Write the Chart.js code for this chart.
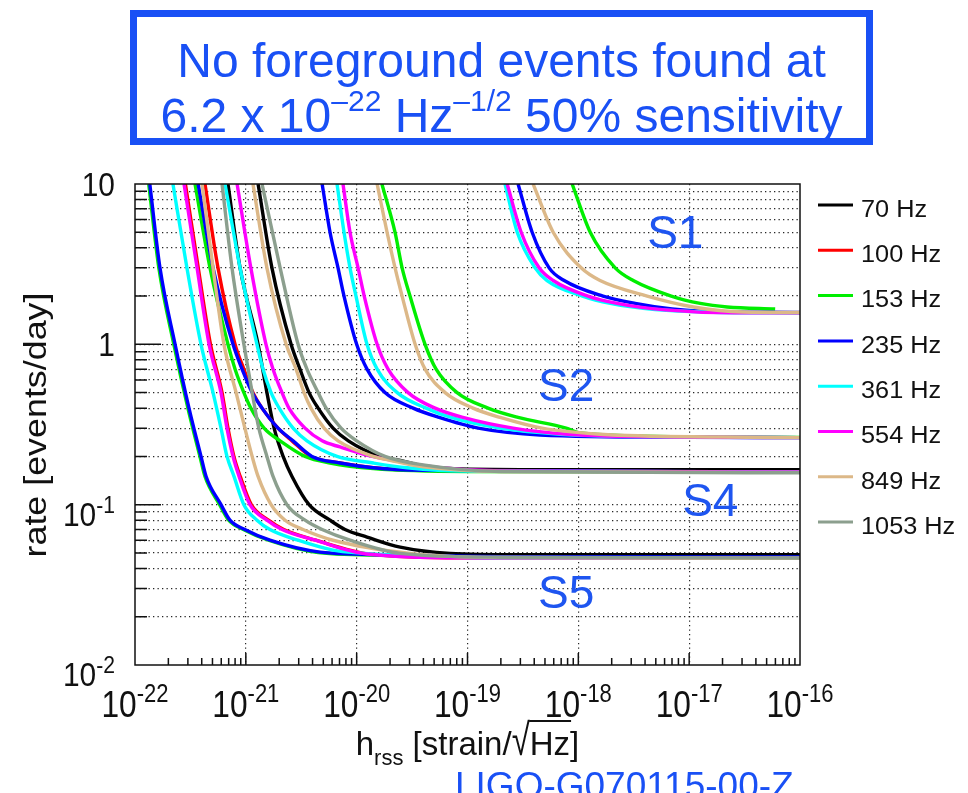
<!DOCTYPE html>
<html><head><meta charset="utf-8">
<script src="https://cdn.jsdelivr.net/npm/chart.js@4.4.1/dist/chart.umd.min.js"></script>
<style>
html,body{margin:0;padding:0;background:#fff;width:968px;height:793px;overflow:hidden;position:relative;}
#c{position:absolute;left:0;top:0;}
.blue{color:#1950F5;font-family:"Liberation Sans",Arial,Helvetica,sans-serif;}
#box{position:absolute;left:130px;top:10px;width:743px;height:135px;box-sizing:border-box;border:7px solid #1950F5;}
.tl{position:absolute;left:130px;width:743px;text-align:center;font-size:48px;line-height:48px;white-space:nowrap;}
.tl sup{font-size:30px;position:relative;top:-21px;vertical-align:baseline;line-height:0;}
#foot{position:absolute;left:455px;top:767px;font-size:37px;line-height:37px;white-space:nowrap;}
</style></head>
<body>
<canvas id="c" width="968" height="793"></canvas>
<div id="box"></div>
<div class="tl blue" style="top:37px">No foreground events found at</div>
<div class="tl blue" style="top:92px">6.2 x 10<sup>–22</sup> Hz<sup>–1/2</sup> 50% sensitivity</div>
<div id="foot" class="blue">LIGO-G070115-00-Z</div>
<script>
const FONT = '"Liberation Sans", Arial, Helvetica, sans-serif';

// ---- legend / categories ----
const freqLabels = ['70 Hz','100 Hz','153 Hz','235 Hz','361 Hz','554 Hz','849 Hz','1053 Hz'];
const freqColors = ['#000000','#ff0000','#00ee00','#0000ff','#00ffff','#ff00ff','#dcb888','#8c9f8e'];

// ---- curves: [hrss, rate (events/day)] ----
// S5
const s5_70   = [[6.9e-22,10],[8.87e-22,3],[1.29e-21,1],[1.55e-21,0.5],[1.80e-21,0.3],[2.17e-21,0.2],[2.61e-21,0.15],[3.72e-21,0.1],[5.75e-21,0.08],[7.85e-21,0.07],[1.24e-20,0.0628],[2.47e-20,0.0543],[6.97e-20,0.0497],[3e-19,0.0488],[1e-16,0.0487]];
const s5_100  = [[2.85e-22,10],[3.72e-22,3],[4.8e-22,1],[6.1e-22,0.5],[6.9e-22,0.3],[7.8e-22,0.2],[8.9e-22,0.15],[1.12e-21,0.1],[1.6e-21,0.08],[2.2e-21,0.07],[4.3e-21,0.06],[1.3e-20,0.0492],[1e-19,0.0466],[1e-16,0.0463]];
const s5_153  = [[1.33e-22,10],[1.64e-22,3],[2.24e-22,1],[3.0e-22,0.4],[3.85e-22,0.2],[4.28e-22,0.15],[5.8e-22,0.1],[7.0e-22,0.08],[9.5e-22,0.07],[1.6e-21,0.06],[4.5e-21,0.0503],[2.4e-20,0.0482],[2e-19,0.047],[1e-16,0.0468]];
const s5_235  = [[1.36e-22,10],[1.68e-22,3],[2.3e-22,1],[3.07e-22,0.4],[3.94e-22,0.2],[4.38e-22,0.15],[5.97e-22,0.1],[7.19e-22,0.08],[9.8e-22,0.07],[1.65e-21,0.06],[4.67e-21,0.0506],[2.46e-20,0.0485],[2e-19,0.0474],[1e-16,0.0472]];
const s5_361  = [[2.2e-22,10],[2.94e-22,3],[3.94e-22,1],[5.06e-22,0.5],[5.97e-22,0.3],[6.76e-22,0.2],[7.82e-22,0.15],[9.6e-22,0.1],[1.26e-21,0.08],[1.65e-21,0.07],[2.96e-21,0.06],[6.12e-21,0.0521],[2.47e-20,0.0485],[2e-19,0.0465],[1e-16,0.0463]];
const s5_554  = [[2.77e-22,10],[3.63e-22,3],[4.66e-22,1],[5.97e-22,0.5],[6.76e-22,0.3],[7.66e-22,0.2],[8.69e-22,0.15],[1.09e-21,0.1],[1.55e-21,0.08],[2.12e-21,0.07],[4.22e-21,0.06],[1.24e-20,0.0492],[1e-19,0.0466],[1e-16,0.0463]];
const s5_849  = [[4.03e-22,10],[5.06e-22,3],[6.35e-22,1],[8.17e-22,0.5],[9.8e-22,0.3],[1.14e-21,0.2],[1.29e-21,0.15],[1.69e-21,0.1],[2.26e-21,0.08],[3.28e-21,0.07],[6.12e-21,0.06],[3.03e-20,0.0497],[2e-19,0.0468],[1e-16,0.0463]];
const s5_1053 = [[6.1e-22,10],[7.5e-22,3],[9.6e-22,1],[1.14e-21,0.5],[1.31e-21,0.3],[1.55e-21,0.2],[1.76e-21,0.15],[2.35e-21,0.1],[3.42e-21,0.08],[4.88e-21,0.07],[8.7e-21,0.06],[2.47e-20,0.0497],[2e-19,0.047],[1e-16,0.0465]];
// S4
const s4_70   = [[1.29e-21,10],[1.72e-21,3],[2.56e-21,1],[3.08e-21,0.7],[3.72e-21,0.5],[4.49e-21,0.4],[6.12e-21,0.3],[8.41e-21,0.25],[1.63e-20,0.2],[2.47e-20,0.189],[4.89e-20,0.17],[3e-19,0.1655],[1e-16,0.1655]];
const s4_100  = [[4.28e-22,10],[5.61e-22,3],[8.0e-22,1],[9.6e-22,0.7],[1.16e-21,0.5],[1.40e-21,0.4],[1.95e-21,0.3],[2.61e-21,0.25],[3.87e-21,0.2],[7.08e-21,0.182],[1.41e-20,0.17],[3.97e-20,0.164],[1e-16,0.16]];
const s4_153  = [[3.48e-22,10],[4.75e-22,3],[6.9e-22,1],[8.0e-22,0.7],[9.6e-22,0.5],[1.11e-21,0.4],[1.46e-21,0.3],[2.04e-21,0.25],[3.42e-21,0.2],[5.75e-21,0.182],[1.41e-20,0.168],[1e-19,0.161],[1e-16,0.16]];
const s4_235  = [[3.71e-22,10],[5.06e-22,3],[7.66e-22,1],[9.25e-22,0.7],[1.14e-21,0.5],[1.40e-21,0.4],[1.95e-21,0.3],[2.67e-21,0.25],[3.95e-21,0.2],[7.08e-21,0.182],[1.41e-20,0.17],[3.97e-20,0.164],[1e-16,0.16]];
const s4_361  = [[6.49e-22,10],[8.87e-22,3],[1.26e-21,1],[1.43e-21,0.7],[1.69e-21,0.5],[2.0e-21,0.4],[2.67e-21,0.3],[3.56e-21,0.25],[6.65e-21,0.2],[1.41e-20,0.182],[2.85e-20,0.17],[1e-19,0.162],[1e-16,0.16]];
const s4_554  = [[8.34e-22,10],[1.11e-21,3],[1.52e-21,1],[1.76e-21,0.7],[2.12e-21,0.5],[2.45e-21,0.4],[3.42e-21,0.3],[4.88e-21,0.25],[7.08e-21,0.229],[1.38e-20,0.2],[2.85e-20,0.182],[5.66e-20,0.17],[2e-19,0.162],[1e-16,0.16]];
const s4_849  = [[1.16e-21,10],[1.55e-21,3],[2.31e-21,1],[2.84e-21,0.7],[3.35e-21,0.5],[3.87e-21,0.4],[5.08e-21,0.3],[6.79e-21,0.25],[1.41e-20,0.2],[2.0e-20,0.189],[3.97e-20,0.172],[2e-19,0.161],[1e-16,0.159]];
const s4_1053 = [[1.40e-21,10],[2.04e-21,3],[2.96e-21,1],[3.56e-21,0.7],[4.49e-21,0.5],[5.30e-21,0.4],[7.23e-21,0.3],[1.0e-20,0.25],[1.80e-20,0.2],[3.97e-20,0.177],[2e-19,0.161],[1e-16,0.158]];
// S2
const s2_153  = [[1.69e-20,10],[2.22e-20,5],[2.57e-20,3],[3.03e-20,2],[4.14e-20,1],[5.21e-20,0.7],[8.05e-20,0.5],[1.53e-19,0.4],[2.86e-19,0.35],[7.76e-19,0.3],[1.04e-18,0.28],[1e-17,0.265],[1e-16,0.263]];
const s2_235  = [[4.88e-21,10],[5.75e-21,5],[6.79e-21,3],[7.69e-21,2],[1.0e-20,1],[1.24e-20,0.7],[1.80e-20,0.5],[3.23e-20,0.4],[5.55e-20,0.35],[1.25e-19,0.3],[4.52e-19,0.272],[1e-17,0.263],[1e-16,0.262]];
const s2_361  = [[6.65e-21,10],[7.69e-21,5],[8.71e-21,3],[9.86e-21,2],[1.24e-20,1],[1.53e-20,0.7],[2.32e-20,0.5],[4.23e-20,0.4],[7.11e-20,0.35],[1.97e-19,0.3],[6.86e-19,0.275],[1e-17,0.264],[1e-16,0.262]];
const s2_554  = [[7.53e-21,10],[8.71e-21,5],[1.03e-20,3],[1.17e-20,2],[1.53e-20,1],[1.92e-20,0.7],[2.91e-20,0.5],[5.1e-20,0.4],[9.1e-20,0.35],[2.58e-19,0.3],[8e-19,0.275],[1e-17,0.264],[1e-16,0.262]];
const s2_849  = [[1.53e-20,10],[1.88e-20,5],[2.22e-20,3],[2.57e-20,2],[3.37e-20,1],[4.14e-20,0.7],[6.28e-20,0.5],[1.12e-19,0.4],[1.97e-19,0.35],[4.71e-19,0.3],[1.57e-18,0.275],[2e-17,0.264],[1e-16,0.262]];
// S1
const s1_153  = [[8.79e-19,10],[1.28e-18,5],[2.15e-18,3],[3.13e-18,2.5],[6.89e-18,2],[1.26e-17,1.8],[2.2e-17,1.71],[5.97e-17,1.66]];
const s1_235  = [[2.86e-19,10],[3.83e-19,5],[5.45e-19,3],[7.45e-19,2.5],[1.67e-18,2],[3.26e-18,1.8],[7e-18,1.66],[1.26e-17,1.61],[1e-16,1.58]];
const s1_361  = [[2.18e-19,10],[2.81e-19,5],[4.07e-19,3],[5.22e-19,2.5],[1.09e-18,2],[1.94e-18,1.8],[4.93e-18,1.65],[5.58e-17,1.57],[1e-16,1.57]];
const s1_554  = [[2.28e-19,10],[3.05e-19,5],[4.43e-19,3],[5.93e-19,2.5],[1.22e-18,2],[2.24e-18,1.8],[6.07e-18,1.64],[2.49e-17,1.57],[1e-16,1.57]];
const s1_849  = [[3.91e-19,10],[5.93e-19,5],[1.06e-18,3],[1.57e-18,2.5],[4.18e-18,2],[1.09e-17,1.71],[3.07e-17,1.59],[1e-16,1.58]];

const runNames = ['S1','S2','S4','S5'];
const runCurves = [
  [null, null, s1_153, s1_235, s1_361, s1_554, s1_849, null],
  [null, null, s2_153, s2_235, s2_361, s2_554, s2_849, null],
  [s4_70, s4_100, s4_153, s4_235, s4_361, s4_554, s4_849, s4_1053],
  [s5_70, s5_100, s5_153, s5_235, s5_361, s5_554, s5_849, s5_1053]
];
// run-name annotation anchors (data coordinates)
const runLabelH = [7.5e-18, 7.76e-19, 1.55e-17, 7.76e-19];
const runLabelR = [4.8, 0.533, 0.102, 0.0273];

// ---- axes ----
const xTickValues = [1e-22,1e-21,1e-20,1e-19,1e-18,1e-17,1e-16];
const xTickLabels = [['10','-22'],['10','-21'],['10','-20'],['10','-19'],['10','-18'],['10','-17'],['10','-16']];
const yTickValues = [0.01, 0.1, 1, 10];
const yTickLabels = [['10','-2'],['10','-1'],['1',''],['10','']];

const xGrid = [1e-21,1e-20,1e-19,1e-18,1e-17];
const yGrid = [];
for (let e = -2; e <= 0; e++) for (let k = 1; k <= 9; k++) { if (e === -2 && k === 1) continue; yGrid.push(+(k * Math.pow(10, e)).toPrecision(6)); }
const xMarks = [];
for (let e = -22; e <= -17; e++) for (let k = 1; k <= 9; k++) { if (e === -22 && k === 1) continue; xMarks.push(+(k * Math.pow(10, e)).toPrecision(6)); }
const isDecade = v => Math.abs(Math.log10(v) - Math.round(Math.log10(v))) < 1e-6;

const datasets = [];
runCurves.forEach(curves => curves.forEach((c, i) => {
  if (!c) return;
  datasets.push({
    label: freqLabels[i],
    data: c.map(p => ({x: p[0], y: p[1]})),
    borderColor: freqColors[i], backgroundColor: freqColors[i],
    borderWidth: 3.4, pointRadius: 0, pointHoverRadius: 0, fill: false,
    cubicInterpolationMode: 'monotone', order: 7 - i
  });
}));

function drawPow(ctx, base, exp, x, yb, align, bs, es, sx, raise) {
  ctx.font = bs + 'px ' + FONT; const wb = ctx.measureText(base).width * sx;
  ctx.font = es + 'px ' + FONT; const we = exp ? ctx.measureText(exp).width * sx : 0;
  const tot = wb + we;
  const x0 = align === 'center' ? x - tot / 2 : (align === 'right' ? x - tot : x);
  ctx.textAlign = 'left'; ctx.textBaseline = 'alphabetic';
  ctx.save(); ctx.translate(x0, yb); ctx.scale(sx, 1); ctx.font = bs + 'px ' + FONT; ctx.fillText(base, 0, 0); ctx.restore();
  if (exp) { ctx.save(); ctx.translate(x0 + wb, yb - raise); ctx.scale(sx, 1); ctx.font = es + 'px ' + FONT; ctx.fillText(exp, 0, 0); ctx.restore(); }
}

const decor = {
  id: 'decor',
  afterDraw(chart) {
    const ctx = chart.ctx, a = chart.chartArea, xs = chart.scales.x, ys = chart.scales.y;
    ctx.save();
    // frame
    ctx.strokeStyle = '#111'; ctx.lineWidth = 1.5;
    ctx.strokeRect(a.left, a.top, a.right - a.left, a.bottom - a.top);
    // inward tick marks
    ctx.beginPath();
    yGrid.forEach(v => { const p = ys.getPixelForValue(v); const len = isDecade(v) ? 26 : 12; ctx.moveTo(a.left, p); ctx.lineTo(a.left + len, p); });
    xMarks.forEach(v => { const p = xs.getPixelForValue(v); const len = isDecade(v) ? 12 : 7; ctx.moveTo(p, a.bottom); ctx.lineTo(p, a.bottom - len); });
    ctx.stroke();
    // tick labels
    ctx.fillStyle = '#111';
    xTickValues.forEach((v, i) => {
      const p = xs.getPixelForValue(v);
      drawPow(ctx, xTickLabels[i][0], xTickLabels[i][1], p, a.bottom + 52, 'center', 36, 25, 0.88, 15);
    });
    yTickValues.forEach((v, i) => {
      const p = ys.getPixelForValue(v);
      const lab = yTickLabels[i];
      const yb = lab[1] ? p + 21 : p + 12;
      drawPow(ctx, lab[0], lab[1], a.left - 20, yb, 'right', 34, 24, 0.88, 13);
    });
    // y title
    ctx.save(); ctx.translate(37, 425); ctx.rotate(-Math.PI / 2); ctx.scale(1.12, 1);
    ctx.font = '32px ' + FONT; ctx.textAlign = 'center'; ctx.textBaseline = 'middle';
    ctx.fillText('rate [events/day]', 0, 0); ctx.restore();
    // x title: h_rss [strain/√Hz]
    const f1 = '33px ' + FONT, f2 = '22px ' + FONT;
    const parts = [['h', f1, 0], ['rss', f2, 10], [' [strain/', f1, 0], ['√', f1, 0], ['Hz', f1, 0], [']', f1, 0]];
    let tot = 0; const ws = parts.map(p => { ctx.font = p[1]; const w = ctx.measureText(p[0]).width; tot += w; return w; });
    let cx = (a.left + a.right) / 2 - tot / 2; const bl = 755; const topY = bl - 35;
    ctx.textAlign = 'left'; ctx.textBaseline = 'alphabetic';
    let sqrtRight = 0, hzEnd = 0;
    parts.forEach((p, i) => {
      ctx.font = p[1];
      if (p[0] === '√') {
        const m = ctx.measureText('√');
        const asc = m.actualBoundingBoxAscent || 26;
        const sy = (bl - topY) / asc;
        ctx.save(); ctx.translate(cx, bl); ctx.scale(1, sy); ctx.fillText('√', 0, 0); ctx.restore();
        sqrtRight = cx + (m.actualBoundingBoxRight || ws[i]) - 1.5;
      } else {
        ctx.fillText(p[0], cx, bl + p[2]);
      }
      if (p[0] === 'Hz') hzEnd = cx + ws[i] + 1;
      cx += ws[i];
    });
    ctx.strokeStyle = '#111'; ctx.lineWidth = 2.2;
    ctx.beginPath(); ctx.moveTo(sqrtRight, topY + 1); ctx.lineTo(hzEnd, topY + 1); ctx.stroke();
    // run names
    ctx.fillStyle = '#1E55F0'; ctx.font = '46px ' + FONT; ctx.textAlign = 'center'; ctx.textBaseline = 'middle';
    runNames.forEach((n, i) => ctx.fillText(n, xs.getPixelForValue(runLabelH[i]), ys.getPixelForValue(runLabelR[i])));
    // legend
    freqLabels.forEach((lab, i) => {
      const ly = a.top + 21 + i * 45.3;
      ctx.strokeStyle = freqColors[i]; ctx.lineWidth = 3;
      ctx.beginPath(); ctx.moveTo(a.right + 18, ly); ctx.lineTo(a.right + 53, ly); ctx.stroke();
      ctx.save(); ctx.translate(a.right + 61, ly + 5.5); ctx.scale(1.1, 1);
      ctx.font = '23px ' + FONT; ctx.fillStyle = '#111'; ctx.textAlign = 'left'; ctx.textBaseline = 'middle';
      ctx.fillText(lab, 0, 0); ctx.restore();
    });
    ctx.restore();
  }
};

new Chart(document.getElementById('c'), {
  type: 'line',
  data: { datasets },
  options: {
    responsive: false, animation: false, devicePixelRatio: 1, events: [],
    layout: { padding: { left: 135, right: 168, top: 184, bottom: 128 } },
    plugins: { legend: { display: false }, tooltip: { enabled: false }, title: { display: false } },
    scales: {
      x: {
        type: 'logarithmic', min: 1e-22, max: 1e-16,
        afterBuildTicks: s => { s.ticks = xGrid.map(v => ({ value: v })); },
        ticks: { display: false },
        grid: { color: 'rgba(0,0,0,0.85)', lineWidth: 1.2, drawTicks: false },
        border: { display: false, dash: [1.3, 3.2] }
      },
      y: {
        type: 'logarithmic', min: 0.01, max: 10,
        afterBuildTicks: s => { s.ticks = yGrid.map(v => ({ value: v })); },
        ticks: { display: false },
        grid: { color: 'rgba(0,0,0,0.85)', lineWidth: 1.2, drawTicks: false },
        border: { display: false, dash: [1.3, 3.2] }
      }
    }
  },
  plugins: [decor]
});
</script>
</body></html>
